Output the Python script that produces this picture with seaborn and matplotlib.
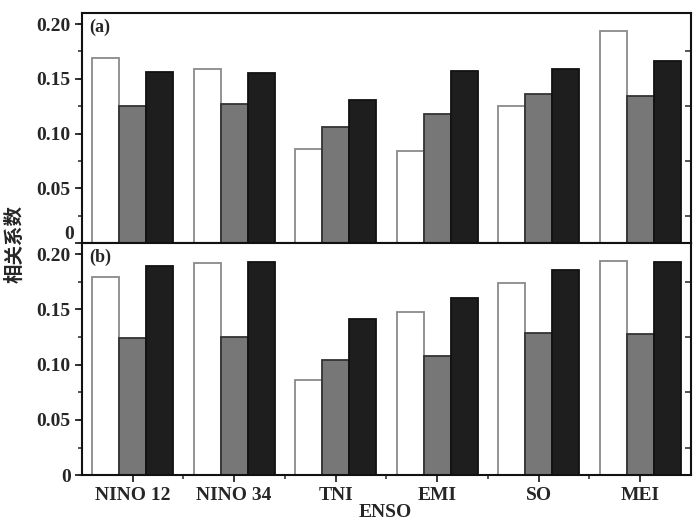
import matplotlib
matplotlib.use("Agg")
import matplotlib.pyplot as plt
import seaborn as sns
import pandas as pd
from matplotlib.ticker import MultipleLocator, FixedLocator, FuncFormatter

categories = ["NINO 12", "NINO 34", "TNI", "EMI", "SO", "MEI"]
series = ["s1", "s2", "s3"]

# panel (a)
a_s1 = [0.169, 0.159, 0.086, 0.084, 0.125, 0.194]
a_s2 = [0.125, 0.127, 0.106, 0.118, 0.136, 0.134]
a_s3 = [0.156, 0.155, 0.131, 0.157, 0.159, 0.166]

# panel (b)
b_s1 = [0.179, 0.192, 0.086, 0.148, 0.174, 0.194]
b_s2 = [0.124, 0.125, 0.104, 0.108, 0.129, 0.128]
b_s3 = [0.189, 0.193, 0.141, 0.160, 0.186, 0.193]

face_colors = ["#ffffff", "#777777", "#1e1e1e"]
edge_colors = ["#8a8a8a", "#333333", "#111111"]

sns.set_theme(style="ticks")
plt.rcParams["font.family"] = ["Liberation Serif", "DejaVu Serif"]
plt.rcParams["font.weight"] = "bold"


def to_frame(v1, v2, v3):
    rows = []
    for name, vals in zip(series, [v1, v2, v3]):
        for cat, v in zip(categories, vals):
            rows.append({"ENSO": cat, "series": name, "value": v})
    return pd.DataFrame(rows)


def fmt_full(v, pos):
    return "0" if abs(v) < 1e-9 else f"{v:.2f}"


def fmt_no_zero(v, pos):
    # top panel: the "0" label is drawn separately, slightly raised
    return "" if abs(v) < 1e-9 else f"{v:.2f}"


fig = plt.figure(figsize=(7, 5.25), dpi=100)
ax_a = fig.add_axes([0.117, 0.537, 0.870, 0.438])
ax_b = fig.add_axes([0.117, 0.095, 0.870, 0.442], sharex=ax_a)

for ax, vals, tag, fmt in [(ax_a, (a_s1, a_s2, a_s3), "(a)", fmt_no_zero),
                           (ax_b, (b_s1, b_s2, b_s3), "(b)", fmt_full)]:
    df = to_frame(*vals)
    sns.barplot(data=df, x="ENSO", y="value", hue="series", order=categories,
                hue_order=series, palette=face_colors, width=0.8, gap=0,
                legend=False, ax=ax, saturation=1)
    for cont, fc, ec in zip(ax.containers, face_colors, edge_colors):
        for p in cont:
            p.set_facecolor(fc)
            p.set_edgecolor(ec)
            p.set_linewidth(1.3)
    ax.set_ylim(0, 0.21)
    ax.set_xlim(-0.5, 5.5)
    ax.yaxis.set_major_locator(MultipleLocator(0.05))
    ax.yaxis.set_minor_locator(MultipleLocator(0.025))
    ax.yaxis.set_major_formatter(FuncFormatter(fmt))
    ax.xaxis.set_minor_locator(FixedLocator([0.5, 1.5, 2.5, 3.5, 4.5]))
    ax.tick_params(axis="y", which="major", direction="out", length=5, width=1.3,
                   labelsize=14, left=True, right=False, pad=3)
    # right side: short inward minor ticks only
    ax.tick_params(axis="y", which="minor", direction="in", length=4, width=1.1,
                   left=False, right=True)
    ax.tick_params(axis="x", which="major", direction="out", length=5, width=1.3,
                   labelsize=14)
    ax.tick_params(axis="x", which="minor", direction="out", length=3, width=1.1)
    for s in ax.spines.values():
        s.set_visible(True)
        s.set_linewidth(1.5)
        s.set_color("#111111")
    ax.set_xlabel("")
    ax.set_ylabel("")
    ax.text(0.012, 0.975, tag, transform=ax.transAxes, ha="left", va="top",
            fontsize=13, fontweight="bold")

    # left side: outward minor ticks
    sec = ax.secondary_yaxis("left")
    sec.yaxis.set_major_locator(FixedLocator([]))
    sec.yaxis.set_minor_locator(MultipleLocator(0.025))
    sec.tick_params(which="minor", direction="out", length=3, width=1.1)
    sec.spines["left"].set_visible(False)

plt.setp(ax_a.get_xticklabels(), visible=False)
for lab in ax_b.get_xticklabels() + ax_b.get_yticklabels() + ax_a.get_yticklabels():
    lab.set_fontweight("bold")

ax_a.text(-0.0135, 0, "0", transform=ax_a.get_yaxis_transform(), ha="right",
          va="bottom", fontsize=14, fontweight="bold")

fig.text(0.551, 0.008, "ENSO", ha="center", va="bottom", fontsize=14,
         fontweight="bold")
fig.text(0.021, 0.535, "相关系数", rotation=90, ha="center", va="center",
         fontsize=14, family=["Noto Sans CJK SC", "DejaVu Sans"])

fig.savefig("out.png", dpi=100)
plt.close(fig)
